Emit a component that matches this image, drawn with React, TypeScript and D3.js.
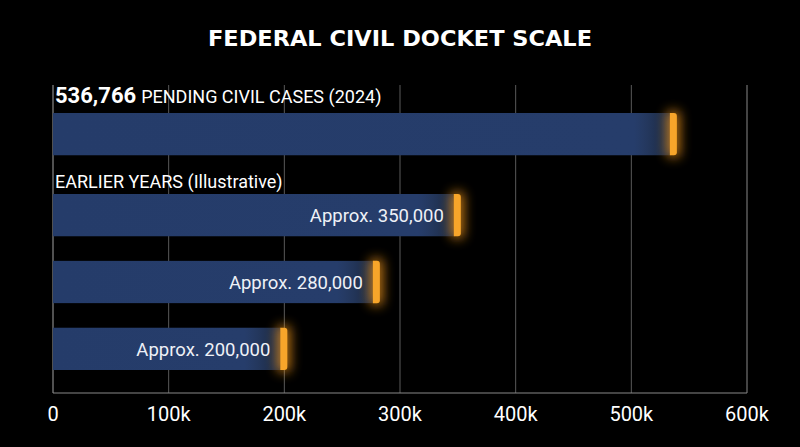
import React from "react";
import * as d3 from "d3";

const title = "FEDERAL CIVIL DOCKET SCALE";
const headlineValue = 536766;
const headlineLabel = "PENDING CIVIL CASES (2024)";
const sectionLabel = "EARLIER YEARS (Illustrative)";
const earlierKeys = ["y1", "y2", "y3"];
const earlierValues = [350000, 280000, 200000];
const earlierLabels = ["Approx. 350,000", "Approx. 280,000", "Approx. 200,000"];
const xTicks = [0, 100000, 200000, 300000, 400000, 500000, 600000];

const W = 800, H = 447;
const x0 = 53, x1 = 747;
const axisY = 393;

function capPath(xl: number, y: number, w: number, h: number, r: number) {
  return `M${xl},${y} H${xl + w - r} Q${xl + w},${y} ${xl + w},${y + r} V${y + h - r} Q${xl + w},${y + h} ${xl + w - r},${y + h} H${xl} Z`;
}

export default function App() {
  const x = d3.scaleLinear().domain([0, 600000]).range([x0, x1]);
  const yE = d3.scaleBand().domain(earlierKeys).range([194, 370]).paddingInner(0.368).paddingOuter(0);
  const bh = yE.bandwidth();
  const topY = 113;
  const fmt = (v: number) => (v === 0 ? "0" : `${v / 1000}k`);
  const bars = [
    { key: "top", v: headlineValue, y: topY, label: "" },
    ...earlierKeys.map((k, i) => ({ key: k, v: earlierValues[i], y: yE(k)!, label: earlierLabels[i] })),
  ];
  return (
    <svg width={W} height={H} style={{ position: "absolute", left: 0, top: 0, background: "#000" }}>
      <defs>
        <filter id="glow" x="-300%" y="-60%" width="700%" height="220%">
          <feGaussianBlur stdDeviation="6" />
        </filter>
        {bars.map((b) => {
          const xe = x(b.v);
          return (
            <linearGradient key={b.key} id={`g-${b.key}`} gradientUnits="userSpaceOnUse" x1={x0} x2={xe} y1={0} y2={0}>
              <stop offset={0} stopColor="#253c6a" />
              <stop offset={Math.max(0, (xe - x0 - 40) / (xe - x0))} stopColor="#263d6b" />
              <stop offset={1} stopColor="#3d5a90" stopOpacity={0.35} />
            </linearGradient>
          );
        })}
      </defs>
      <rect x={0} y={0} width={W} height={H} fill="#000" />
      <text x={400} y={46} textAnchor="middle" fill="#fff" fontFamily="DejaVu Sans" fontWeight="bold" fontSize={22} textLength={384} lengthAdjust="spacingAndGlyphs">
        {title}
      </text>
      {xTicks.slice(1).map((t) => (
        <line key={t} x1={x(t)} x2={x(t)} y1={85} y2={axisY} stroke={t === 600000 ? "#888" : "#5a5a5a"} strokeWidth={1} />
      ))}
      <line x1={x0} x2={x0} y1={85} y2={axisY} stroke="#888" strokeWidth={1.2} />
      <line x1={x0} x2={x1} y1={axisY} y2={axisY} stroke="#888" strokeWidth={1.2} />
      {bars.map((b) => {
        const xe = x(b.v);
        return (
          <g key={b.key}>
            <rect x={x0} y={b.y} width={xe - x0 - 3} height={bh} fill={`url(#g-${b.key})`} />
            <rect x={xe - 7} y={b.y - 2} width={13} height={bh + 4} rx={3} fill="#ff9f1a" opacity={0.75} filter="url(#glow)" />
            <path d={capPath(xe - 4, b.y, 7, bh, 3)} fill="#f7a52a" />
            {b.label && (
              <text x={xe - 14} y={b.y + bh / 2 + 7} textAnchor="end" fill="#eef1f7" fontFamily="Roboto" fontSize={18.5}>
                {b.label}
              </text>
            )}
          </g>
        );
      })}
      <text x={55} y={103} fill="#fff" fontFamily="Roboto">
        <tspan fontWeight="bold" fontSize={22}>{d3.format(",")(headlineValue)}</tspan>
        <tspan fontSize={18} dx={5}>{headlineLabel}</tspan>
      </text>
      <text x={55} y={188} fill="#fff" fontFamily="Roboto" fontSize={18}>
        {sectionLabel}
      </text>
      {xTicks.map((t) => (
        <text key={t} x={x(t)} y={421} textAnchor="middle" fill="#fff" fontFamily="Roboto" fontSize={20}>
          {fmt(t)}
        </text>
      ))}
    </svg>
  );
}
